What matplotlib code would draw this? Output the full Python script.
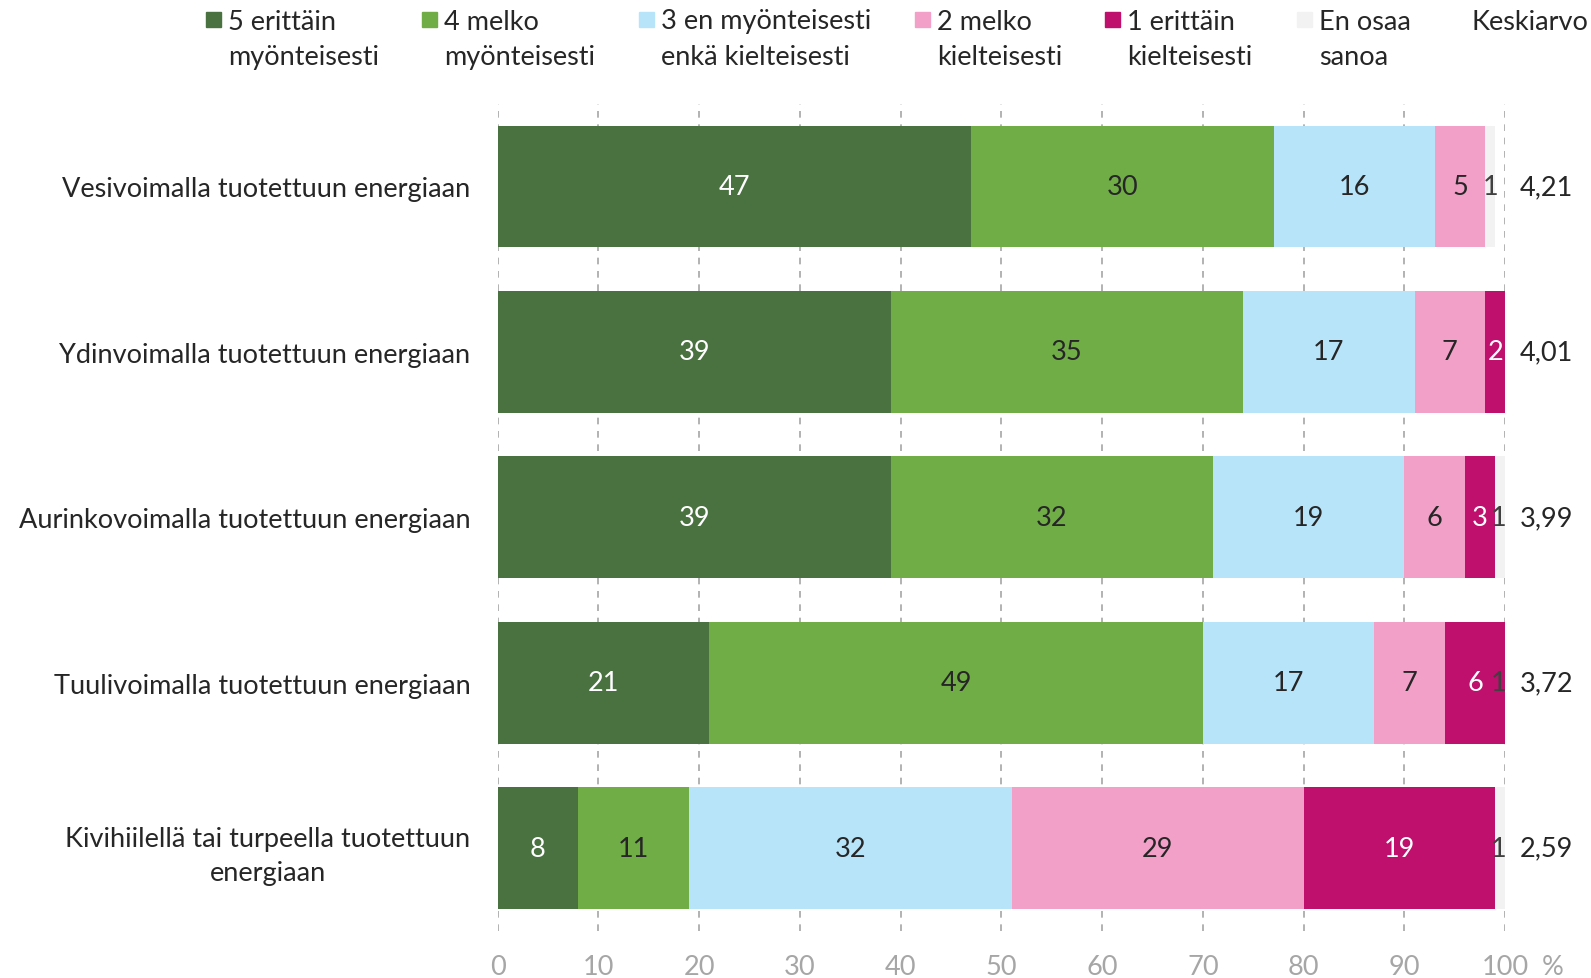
import matplotlib.pyplot as plt
from matplotlib.patches import Rectangle
import numpy as np

plt.rcParams['font.family'] = ['Lato', 'DejaVu Sans']

kategoriat = ['Vesivoimalla tuotettuun energiaan',
              'Ydinvoimalla tuotettuun energiaan',
              'Aurinkovoimalla tuotettuun energiaan',
              'Tuulivoimalla tuotettuun energiaan',
              'Kivihiilellä tai turpeella tuotettuun\nenergiaan']

vastaukset = ['5 erittäin\nmyönteisesti', '4 melko\nmyönteisesti',
              '3 en myönteisesti\nenkä kielteisesti', '2 melko\nkielteisesti',
              '1 erittäin\nkielteisesti', 'En osaa\nsanoa']

# osuudet (%) vastausluokittain, rivit samassa järjestyksessä kuin kategoriat
erittain_myont = [47, 39, 39, 21, 8]
melko_myont = [30, 35, 32, 49, 11]
neutraali = [16, 17, 19, 17, 32]
melko_kielt = [5, 7, 6, 7, 29]
erittain_kielt = [0, 2, 3, 6, 19]
en_osaa = [1, 0, 1, 1, 1]

keskiarvot = ['4,21', '4,01', '3,99', '3,72', '2,59']

varit = ['#4a7140', '#70ad47', '#b8e4fa', '#f3a0c8', '#c0106d', '#f2f2f2']
tekstivarit = ['white', '#262626', '#262626', '#262626', 'white', '#404040']
teksti = '#262626'
harmaa = '#a6a6a6'
fs = 19.5

sarjat = [erittain_myont, melko_myont, neutraali, melko_kielt, erittain_kielt, en_osaa]

fig = plt.figure(figsize=(15.91, 9.79), dpi=100)
ax = fig.add_axes([0.3128, 0.048, 0.6333, 0.845])

y = np.arange(len(kategoriat))
vasen = np.zeros(len(kategoriat))
for sarja, vari, tv in zip(sarjat, varit, tekstivarit):
    arvot = np.array(sarja, dtype=float)
    ax.barh(y, arvot, left=vasen, height=0.736, color=vari, zorder=2)
    for i, v in enumerate(arvot):
        if v > 0:
            # pyöristyksen takia rivi voi ylittää 100 %, pidetään luku näkyvissä
            xk = min(vasen[i] + v / 2, 99.3)
            ax.text(xk, y[i], f'{int(v)}', ha='center', va='center',
                    fontsize=fs, color=tv, zorder=3)
    vasen += arvot

for i, k in enumerate(keskiarvot):
    ax.text(1.014, y[i], k, transform=ax.get_yaxis_transform(), ha='left',
            va='center', fontsize=fs, color=teksti)

ax.set_xlim(0, 100)
ax.set_ylim(len(kategoriat) - 0.5, -0.5)
ax.set_xticks(np.arange(0, 101, 10))
ax.set_yticks(y)
ax.set_yticklabels(kategoriat, fontsize=fs, color=teksti, multialignment='center')
for t in ax.get_yticklabels():
    t.set_linespacing(1.45)
ax.tick_params(axis='y', length=0, pad=19.5)
ax.tick_params(axis='x', length=0, pad=16.5, labelsize=fs, labelcolor=harmaa)
ax.grid(axis='x', linestyle=(0, (4, 4)), color='#a6a6a6', linewidth=1.2, zorder=0)
for s in ax.spines.values():
    s.set_visible(False)

ax.text(1.047, -0.043, '%', transform=ax.transAxes, ha='center', va='center',
        fontsize=fs, color=harmaa)

# selite ylhäällä: neliö + kaksirivinen teksti
W, H = 1591, 979
selite_x = [206, 422, 639, 915, 1105, 1297]
for xs, nimi, vari in zip(selite_x, vastaukset, varit):
    fig.patches.append(Rectangle((xs / W, 1 - 28 / H), 15 / W, 15 / H,
                                 transform=fig.transFigure, color=vari))
    rivi1, rivi2 = nimi.split('\n')
    fig.text((xs + 22) / W, 1 - 22 / H, rivi1, ha='left', va='center',
             fontsize=fs, color=teksti)
    fig.text((xs + 22) / W, 1 - 57.5 / H, rivi2, ha='left', va='center',
             fontsize=fs, color=teksti)
fig.text(1471 / W, 1 - 22 / H, 'Keskiarvo', ha='left', va='center',
         fontsize=fs, color=teksti)

fig.savefig('out.png', dpi=100)
